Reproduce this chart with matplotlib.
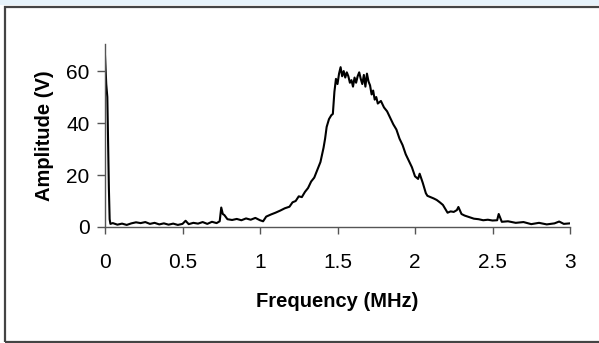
import matplotlib.pyplot as plt
from matplotlib.patches import Rectangle

# spectrum
freq_mhz = [0.0, 0.008, 0.015, 0.02, 0.025, 0.03, 0.035,
            0.05, 0.08, 0.11, 0.14, 0.17, 0.2, 0.23, 0.26, 0.29, 0.32,
            0.35, 0.38, 0.41, 0.44, 0.47, 0.5, 0.52, 0.54, 0.57, 0.6,
            0.63, 0.66, 0.69, 0.72, 0.74, 0.75, 0.76, 0.77, 0.79, 0.82,
            0.85, 0.88, 0.91, 0.94, 0.97,
            1.0, 1.02, 1.04, 1.07, 1.1, 1.13, 1.16, 1.19, 1.21, 1.23,
            1.25, 1.27, 1.29, 1.31, 1.33, 1.35, 1.37, 1.39, 1.41, 1.42,
            1.43, 1.445, 1.46, 1.47, 1.48, 1.49, 1.5, 1.51, 1.52, 1.53,
            1.54, 1.55, 1.56, 1.57, 1.58, 1.59, 1.6, 1.61, 1.62, 1.63,
            1.64, 1.65, 1.66, 1.67, 1.68, 1.69, 1.7, 1.71, 1.72, 1.73,
            1.74, 1.75, 1.76, 1.78, 1.8, 1.82, 1.84, 1.86, 1.88, 1.9,
            1.92, 1.94, 1.96, 1.98, 2.0, 2.02, 2.03, 2.05, 2.07, 2.08,
            2.1, 2.12, 2.14, 2.16, 2.18, 2.2, 2.21, 2.23, 2.25, 2.27,
            2.28, 2.3, 2.32, 2.35, 2.38, 2.41, 2.44, 2.47, 2.5, 2.53,
            2.54, 2.56, 2.6, 2.65, 2.7, 2.75, 2.8, 2.85, 2.9, 2.93,
            2.96, 3.0]
amplitude_v = [66, 55, 50, 33, 15, 3, 1.2,
               1.5, 0.9, 1.3, 0.8, 1.4, 1.8, 1.5, 1.9, 1.2, 1.6,
               1.0, 1.4, 0.9, 1.3, 0.8, 1.2, 2.4, 1.1, 1.6, 1.3,
               1.9, 1.2, 2.0, 1.5, 2.2, 7.5, 5.0, 4.6, 3.0, 2.7,
               3.1, 2.6, 3.3, 2.8, 3.5,
               2.6, 2.2, 4.0, 4.8, 5.5, 6.3, 7.2, 7.8, 9.5, 10.0,
               11.8, 11.5, 13.5, 15.0, 17.5, 19.0, 22.0, 25.0, 30.5, 34,
               38.5, 41.5, 43, 43.5, 52, 57, 55, 59, 61.5, 58,
               60, 57.5, 59.5, 58, 55.5, 56.5, 54, 57.5, 55.5, 58,
               59.5, 57, 55, 58.5, 54, 59, 56, 54.5, 51, 52.5,
               49, 50, 47.5, 48.5, 46, 44.5, 42, 39.5, 37.5, 34,
               31.5, 28, 25.5, 23, 19.5, 18.5, 20.5, 17, 13, 12,
               11.5, 11, 10.4, 9.5, 8.5, 6.5, 5.5, 6, 5.8, 6.5,
               7.7, 5, 4.4, 3.8, 3.2, 3.0, 2.6, 2.8, 2.5, 2.6,
               5.0, 2.0, 2.2, 1.6, 1.9, 1.1, 1.6, 1.0, 1.4, 2.1,
               1.2, 1.4]

x_ticks = [0, 0.5, 1, 1.5, 2, 2.5, 3]
x_tick_labels = ["0", "0.5", "1", "1.5", "2", "2.5", "3"]
y_ticks = [0, 20, 40, 60]

plt.rcParams['font.family'] = ['Liberation Sans', 'DejaVu Sans']

fig = plt.figure(figsize=(5.99, 3.43), dpi=100)
fig.patch.set_facecolor('white')

# light strip at top and outer frame
fig.patches.append(Rectangle((0, 1 - 5 / 343), 1, 5 / 343, transform=fig.transFigure,
                             facecolor='#e6f2fa', edgecolor='none', zorder=0))
fig.patches.append(Rectangle((5 / 599, 1.5 / 343), 1.2, 1 - 8 / 343, transform=fig.transFigure,
                             facecolor='none', edgecolor='#444444', linewidth=1.6, zorder=1))

ax = fig.add_axes([105 / 599, 116 / 343, 465 / 599, 183.5 / 343])
ax.plot(freq_mhz, amplitude_v, color='black', linewidth=1.5)

ax.set_xlim(0, 3)
ax.set_ylim(0, 70.6)
ax.set_xticks(x_ticks)
ax.set_xticklabels(x_tick_labels)
ax.set_yticks(y_ticks)

for side in ['top', 'right']:
    ax.spines[side].set_visible(False)
for side in ['left', 'bottom']:
    ax.spines[side].set_color('#555555')
    ax.spines[side].set_linewidth(1.0)

ax.tick_params(axis='x', direction='out', length=5, width=1, color='#555555',
               labelsize=15, pad=14)
ax.tick_params(axis='y', direction='out', length=6, width=1, color='#555555',
               labelsize=15, pad=5)

ax.set_xlabel("Frequency (MHz)", fontsize=14.5, fontweight='bold', labelpad=14)
ax.set_ylabel("Amplitude (V)", fontsize=14.5, fontweight='bold', labelpad=9)

fig.savefig("out.png", dpi=100)
